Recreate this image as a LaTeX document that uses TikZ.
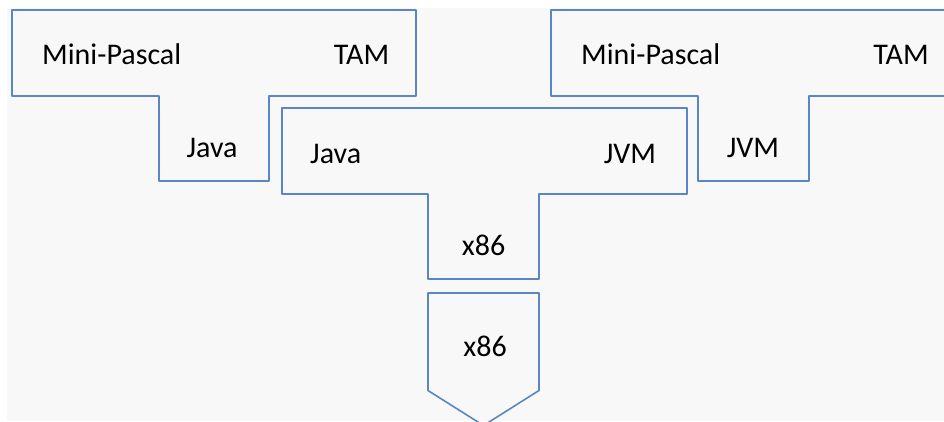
\documentclass[tikz,border=0pt]{standalone}
\usepackage{fontspec}
\setmainfont{Carlito}
\definecolor{bgray}{HTML}{F8F8F8}
\definecolor{tblue}{HTML}{5B86C5}
\begin{document}
\begin{tikzpicture}[x=1pt,y=-1pt,
  tshape/.style={draw=tblue,line width=1.6pt,line join=round},
  lbl/.style={inner sep=0pt,font=\fontsize{30}{36}\selectfont,text=black}]
\useasboundingbox (0,0) rectangle (944,421);
\clip (0,0) rectangle (944,421);
\fill[white] (0,0) rectangle (944,421);
\fill[bgray] (7,8) rectangle (944,421);
% left T
\draw[tshape] (12,10) -- (416,10) -- (416,96) -- (269,96) -- (269,181) -- (159,181) -- (159,96) -- (12,96) -- cycle;
% right T
\draw[tshape] (551,10) -- (960,10) -- (960,96) -- (809,96) -- (809,181) -- (698,181) -- (698,96) -- (551,96) -- cycle;
% middle T
\draw[tshape] (282,108) -- (687,108) -- (687,194) -- (539,194) -- (539,279) -- (428,279) -- (428,194) -- (282,194) -- cycle;
% bottom pentagon
\draw[tshape] (428,293) -- (539,293) -- (539,390.5) -- (483.5,425.5) -- (428,390.5) -- cycle;
% labels
\node[lbl,anchor=base west] (lsrc) at (42,64) {Mini-Pascal};
\node[lbl,anchor=base] (ltgt) at (361.5,64) {TAM};
\node[lbl,anchor=base] (limpl) at (212,157) {Java};
\node[lbl,anchor=base west] (rsrc) at (581,64) {Mini-Pascal};
\node[lbl,anchor=base] (rtgt) at (901,64) {TAM};
\node[lbl,anchor=base] (rimpl) at (753,157) {JVM};
\node[lbl,anchor=base west] (msrc) at (310,163) {Java};
\node[lbl,anchor=base] (mtgt) at (630,163) {JVM};
\node[lbl,anchor=base] (mimpl) at (483.5,255) {x86};
\node[lbl,anchor=base] (mach) at (485,356) {x86};
\end{tikzpicture}
\end{document}
